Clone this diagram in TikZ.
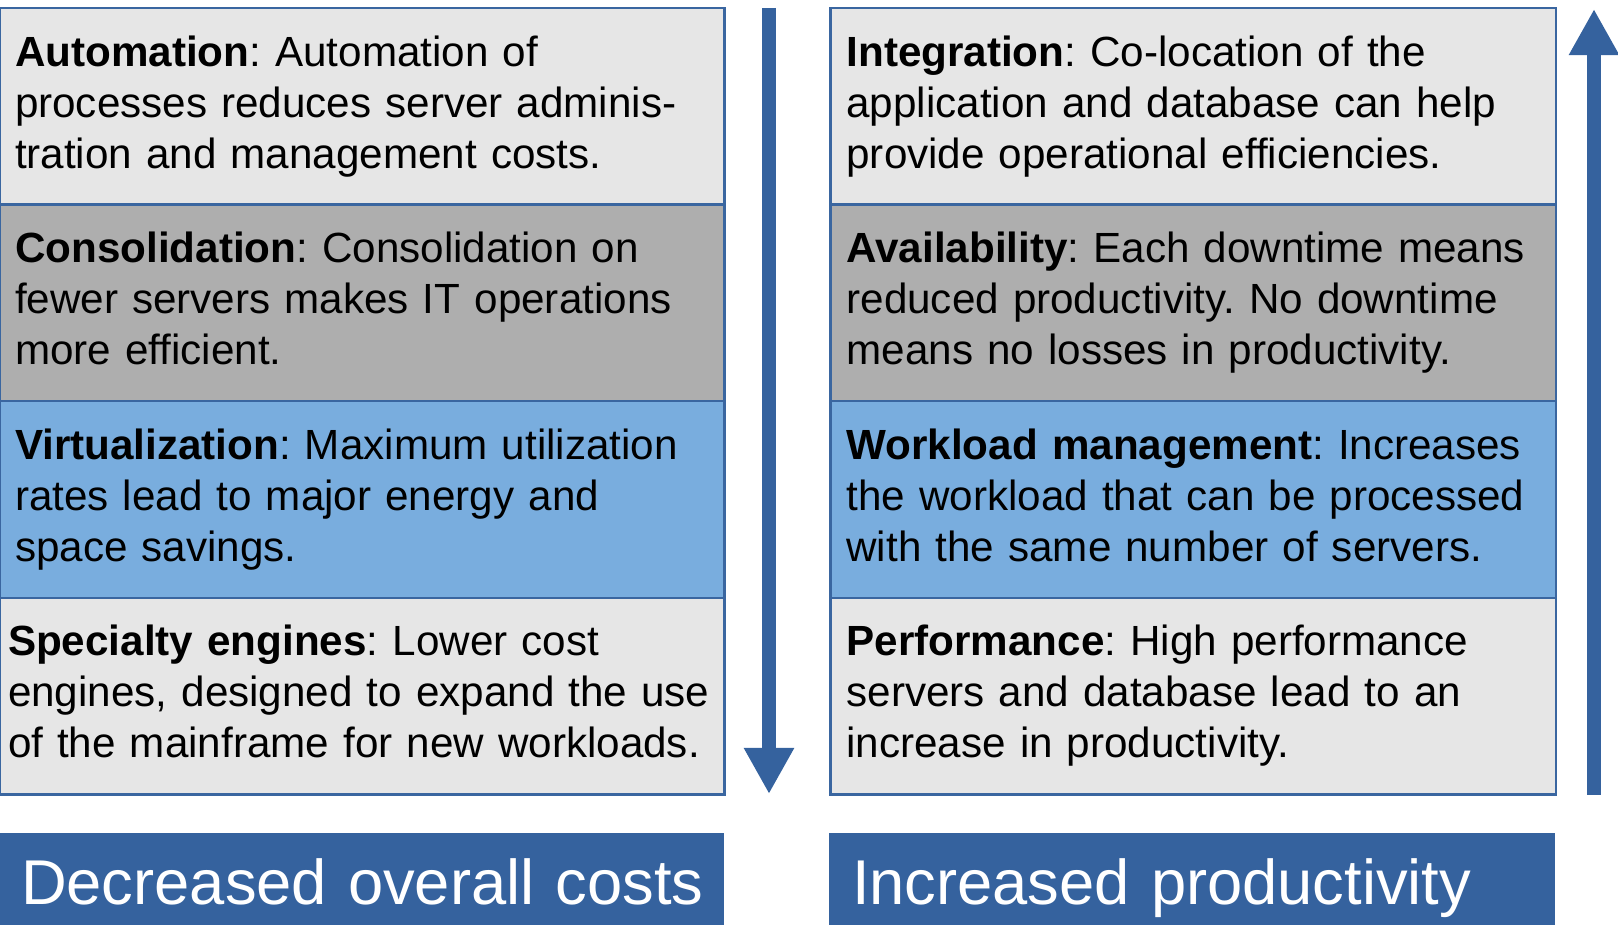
\documentclass[tikz,border=0pt]{standalone}
\usepackage{fontspec}
\setmainfont{Liberation Sans}
\usetikzlibrary{arrows.meta, positioning}
\definecolor{ibmblue}{RGB}{53,98,158}
\definecolor{edgeblue}{RGB}{58,102,160}
\definecolor{lightgrey}{RGB}{230,230,230}
\definecolor{midgrey}{RGB}{174,174,174}
\definecolor{skyblue}{RGB}{121,173,222}
\frenchspacing

\begin{document}
\begin{tikzpicture}[x=0.01cm, y=-0.01cm,
    cell/.style={draw=edgeblue, line width=0.025cm, outer sep=0pt,
        minimum width=7.24cm, minimum height=1.965cm,
        text width=6.94cm, inner xsep=0.15cm, inner ysep=0pt,
        text depth=1.11cm, align=left,
        font=\fontsize{12}{14.5}\selectfont},
    banner/.style={fill=ibmblue, text=white, outer sep=0pt,
        minimum height=1.1cm, inner ysep=0pt, align=left,
        text height=0.45cm, text depth=0.13cm,
        font=\fontsize{18}{20}\selectfont},
    flow/.style={ibmblue, line width=0.146cm,
        -{Triangle[length=0.46cm, width=0.47cm]}}
  ]
  \useasboundingbox (0,0) rectangle (1618,925);

  % cost column
  \node[cell, fill=lightgrey, anchor=north west] (automation) at (0,8)
    {\textbf{Automation}: Automation of\\processes reduces server adminis-\\tration and management costs.};
  \node[cell, fill=midgrey, below=0pt of automation] (consolidation)
    {\textbf{Consolidation}: Consolidation on\\fewer servers makes IT operations\\more efficient.};
  \node[cell, fill=skyblue, below=0pt of consolidation] (virtual)
    {\textbf{Virtualization}: Maximum utilization\\rates lead to major energy and\\space savings.};
  \node[cell, fill=lightgrey, below=0pt of virtual, inner xsep=0.08cm,
    text width=7.08cm] (engines)
    {\textbf{Specialty engines}: Lower cost\\engines, designed to expand the use\\of the mainframe for new workloads.};

  % productivity column
  \node[cell, fill=lightgrey, right=1.06cm of automation, inner xsep=0.16cm,
    text width=6.93cm] (integration)
    {\textbf{Integration}: Co-location of the\\application and database can help\\provide operational efficiencies.};
  \node[cell, fill=midgrey, below=0pt of integration, inner xsep=0.16cm,
    text width=6.93cm] (availability)
    {\textbf{Availability}: Each downtime means\\reduced productivity. No downtime\\means no losses in productivity.};
  \node[cell, fill=skyblue, below=0pt of availability, inner xsep=0.16cm,
    text width=6.93cm] (workload)
    {\textbf{Workload management}: Increases\\the workload that can be processed\\with the same number of servers.};
  \node[cell, fill=lightgrey, below=0pt of workload, inner xsep=0.16cm,
    text width=6.93cm] (performance)
    {\textbf{Performance}: High performance\\servers and database lead to an\\increase in productivity.};

  % arrows
  \coordinate (costtop) at (769,8);
  \coordinate (costend) at (769,794);
  \draw[flow] (costtop) -- (costend);
  \coordinate (prodbase) at (1594,795);
  \coordinate (prodtip) at (1594,9);
  \draw[flow] (prodbase) -- (prodtip);

  % result banners
  \node[banner, anchor=north west, minimum width=7.24cm, text width=6.82cm,
    inner xsep=0.21cm] (costs) at (0,833) {\mbox{Decreased overall costs}};
  \node[banner, anchor=north west, minimum width=7.26cm, text width=6.8cm,
    inner xsep=0.23cm] (productivity) at (829,833) {\mbox{Increased productivity}};
\end{tikzpicture}
\end{document}
